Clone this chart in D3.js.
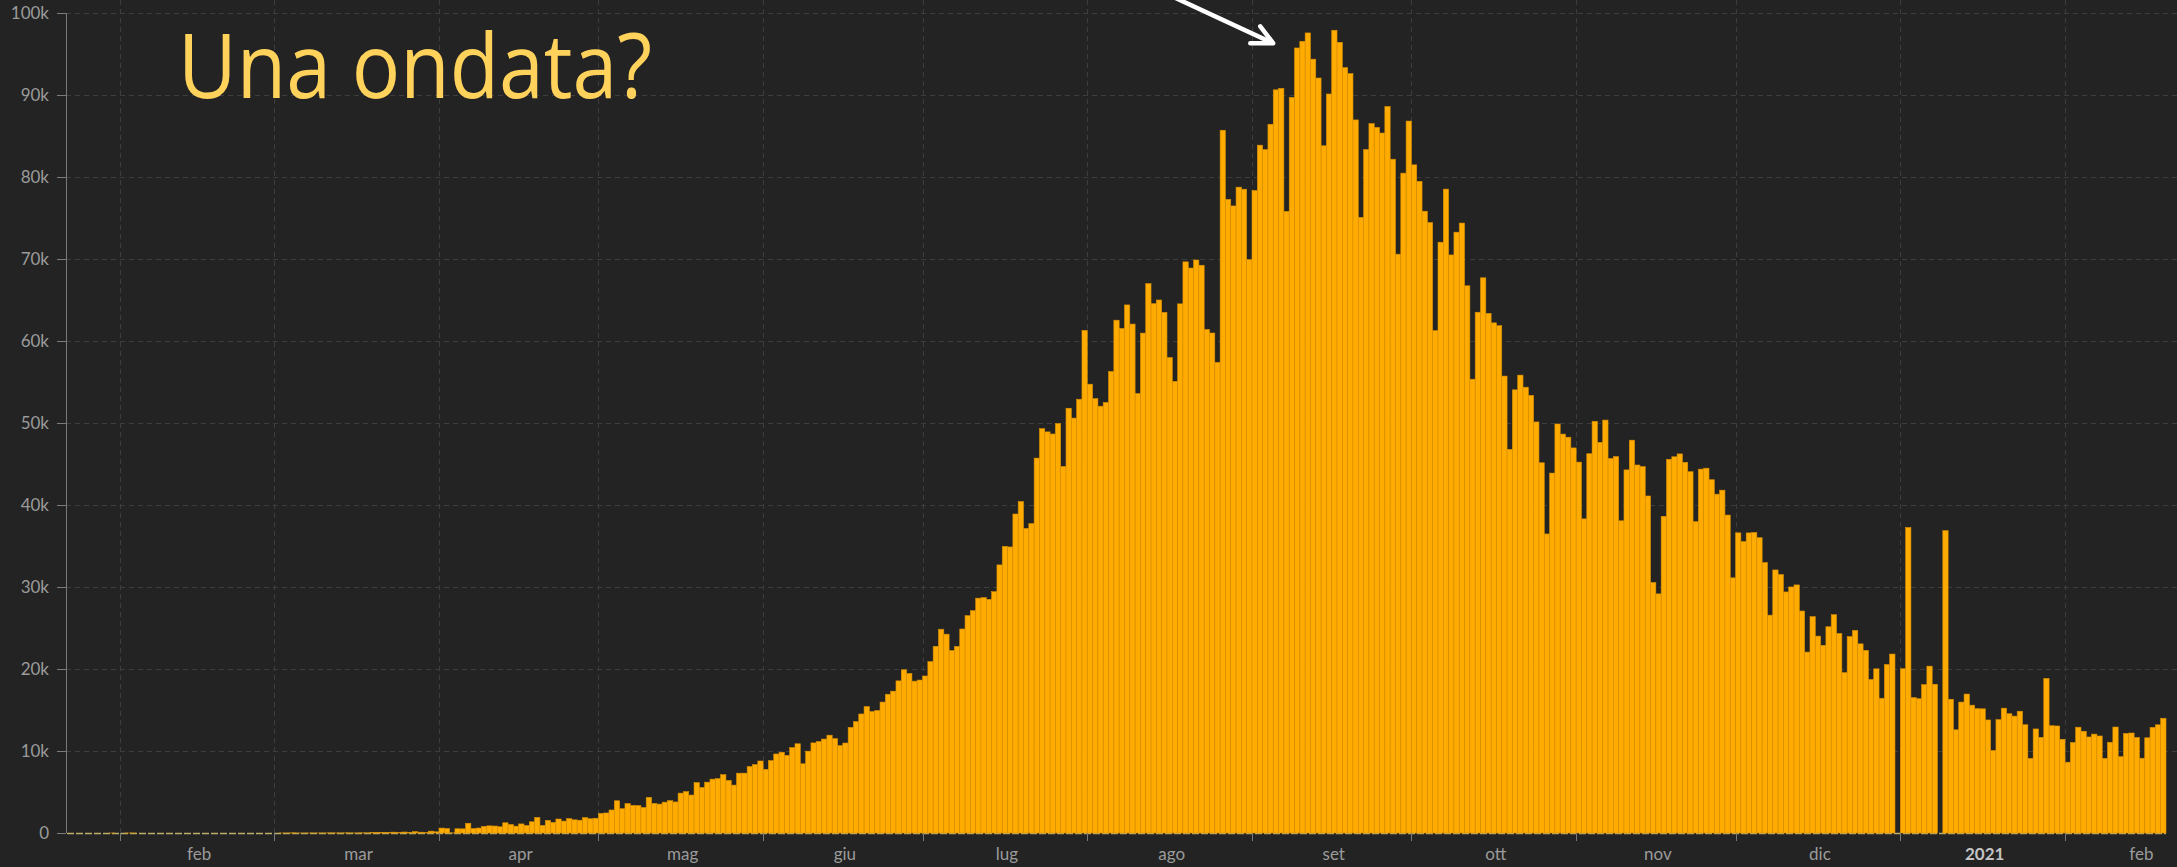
<!DOCTYPE html>
<html>
<head>
<meta charset="utf-8">
<script src="https://cdn.jsdelivr.net/npm/d3@7"></script>
<style>
    html, body { margin: 0; padding: 0; background: #232323; }
    svg { display: block; }
</style>
</head>
<body>
<svg id="chart" width="2177" height="867"></svg>
<script>
// nuovi casi giornalieri, un array per mese (primo giorno indicato in months)
const jan2020 = [0, 0, 0, 0, 0, 0, 0, 0, 1, 0];
const feb2020 = [0, 1, 1, 0, 0, 0, 0, 0, 0, 0, 0, 0, 0, 0, 0, 0, 0, 0, 0, 0, 0, 0, 0, 0, 0, 0, 0, 0, 0];
const mar2020 = [0, 2, 1, 22, 2, 1, 3, 5, 4, 6, 16, 11, 9, 20, 11, 6, 23, 14, 38, 50, 86, 66, 103, 37, 121, 70, 160, 100, 37, 227, 146];
const apr2020 = [601, 545, 24, 515, 506, 1190, 533, 605, 809, 873, 848, 759, 1248, 1034, 835, 1108, 922, 1370, 1893, 924,
    1541, 1290, 1707, 1453, 1753, 1607, 1561, 1873, 1738, 1801];
const may2020 = [2394, 2442, 2806, 3932, 2963, 3587, 3364, 3344, 3113, 4353, 3607, 3524, 3763, 3942, 3787, 4864, 5050, 4630,
    6147, 5553, 6198, 6568, 6629, 7113, 6414, 5843, 7293, 7300, 8105, 8336, 8782];
const jun2020 = [7761, 8821, 9638, 9847, 9472, 10408, 10882, 8442, 9981, 10990, 11156, 11458, 11929, 11502, 10667, 10974,
    12881, 13586, 14516, 15413, 14821, 14933, 15968, 16922, 17296, 18552, 19906, 19459, 18522, 18653];
const jul2020 = [19148, 20903, 22771, 24850, 24248, 22252, 22752, 24879, 26506, 27114, 28637, 28701, 28498, 29429, 32695,
    34956, 34884, 38902, 40425, 37148, 37724, 45720, 49310, 48916, 48661, 49931, 44700, 51800, 50600, 52900, 61300];
const aug2020 = [54735, 52972, 52050, 52509, 56282, 62538, 61537, 64399, 62064, 53601, 60963, 66999, 64553, 65002, 63490,
    57981, 55079, 64531, 69652, 68898, 69878, 69239, 61408, 60975, 57400, 85700, 77266, 76472, 78761, 78512, 69921];
const sep2020 = [78357, 83883, 83341, 86432, 90632, 90802, 75809, 89706, 95735, 96551, 97570, 94372, 92071, 83809, 90123,
    97894, 96424, 93337, 92605, 86961, 75083, 83347, 86508, 86052, 85362, 88600, 82170, 70589, 80472, 86821];
const oct2020 = [81484, 79476, 75829, 74442, 61267, 72049, 78524, 70496, 73272, 74383, 66732, 55342, 63509, 67708, 63371,
    62212, 61871, 55722, 46790, 54044, 55839, 54366, 53370, 50129, 45149, 36470, 43893, 49881, 48648, 48268, 46963];
const nov2020 = [45231, 38310, 46253, 50210, 47638, 50356, 45674, 45903, 38073, 44281, 47905, 44879, 44684, 41100, 30548,
    29163, 38617, 45576, 45882, 46232, 45209, 44059, 37975, 44376, 44489, 43082, 41322, 41810, 38772, 31118];
const dec2020 = [36604, 35551, 36595, 36652, 36011, 32981, 26567, 32080, 31522, 29398, 30006, 30254, 27071, 22065, 26382,
    24010, 22890, 25152, 26624, 24337, 19556, 23950, 24712, 23067, 22272, 18732, 20021, 16432, 20549, 21822, 0];
const jan2021 = [20035, 37256, 16504, 16375, 18088, 20346, 18139, 0, 36867, 16311, 12584, 15968, 16946, 15590, 15158,
    15144, 13788, 10064, 13823, 15223, 14545, 14256, 14849, 13203, 9102, 12689, 11666, 18855, 13083, 13052, 11427];
const feb2021 = [8635, 11039, 12899, 12408, 11713, 12059, 11831, 9110, 11067, 12923, 9309, 12143, 12194, 11649, 9121,
    11610, 12881, 13193, 13993];

const months = [
    { start: new Date(2020, 0, 22), values: jan2020 },
    { start: new Date(2020, 1, 1), values: feb2020 },
    { start: new Date(2020, 2, 1), values: mar2020 },
    { start: new Date(2020, 3, 1), values: apr2020 },
    { start: new Date(2020, 4, 1), values: may2020 },
    { start: new Date(2020, 5, 1), values: jun2020 },
    { start: new Date(2020, 6, 1), values: jul2020 },
    { start: new Date(2020, 7, 1), values: aug2020 },
    { start: new Date(2020, 8, 1), values: sep2020 },
    { start: new Date(2020, 9, 1), values: oct2020 },
    { start: new Date(2020, 10, 1), values: nov2020 },
    { start: new Date(2020, 11, 1), values: dec2020 },
    { start: new Date(2021, 0, 1), values: jan2021 },
    { start: new Date(2021, 1, 1), values: feb2021 },
];

const monthLabels = ["feb", "mar", "apr", "mag", "giu", "lug", "ago", "set", "ott", "nov", "dic", "2021", "feb"];
const yTicks = [0, 10000, 20000, 30000, 40000, 50000, 60000, 70000, 80000, 90000, 100000];

const data = months.flatMap((m) =>
    m.values.map((v, i) => ({ date: d3.timeDay.offset(m.start, i), value: v }))
);

const base = 833;
let x = d3
    .scaleTime()
    .domain([new Date(2020, 0, 22), new Date(2021, 1, 20)])
    .range([67, 2166]);
let y = d3.scaleLinear().domain([0, 100000]).range([base, 13]);

let svg = d3.select("#chart");
svg.append("rect").attr("width", 2177).attr("height", 867).attr("fill", "#232323");

// inizio di ogni mese, da feb 2020 a mar 2021 (serve per centrare le etichette)
const monthStarts = d3.timeMonth.range(new Date(2020, 1, 1), new Date(2021, 2, 2));
const tickMonths = monthStarts.slice(0, 13);

// griglia
svg.append("g")
    .selectAll("line")
    .data(yTicks.slice(1))
    .enter()
    .append("line")
    .attr("x1", 66)
    .attr("x2", 2177)
    .attr("y1", (d) => y(d) + 0.5)
    .attr("y2", (d) => y(d) + 0.5)
    .attr("stroke", "#3d3d3d")
    .attr("stroke-dasharray", "5,4");

svg.append("g")
    .selectAll("line")
    .data(tickMonths)
    .enter()
    .append("line")
    .attr("x1", (d) => Math.round(x(d)) + 0.5)
    .attr("x2", (d) => Math.round(x(d)) + 0.5)
    .attr("y1", 0)
    .attr("y2", base)
    .attr("stroke", "#3d3d3d")
    .attr("stroke-dasharray", "5,4");

// linea dello zero
svg.append("line")
    .attr("x1", 67)
    .attr("x2", 2166)
    .attr("y1", base + 0.5)
    .attr("y2", base + 0.5)
    .attr("stroke", "#bfae6a")
    .attr("stroke-width", 1.5)
    .attr("stroke-dasharray", "7,2");

// barre
svg.append("g")
    .selectAll("rect")
    .data(data)
    .enter()
    .append("rect")
    .attr("x", (d) => x(d.date))
    .attr("width", (d) => x(d3.timeDay.offset(d.date, 1)) - x(d.date))
    .attr("y", (d) => y(d.value))
    .attr("height", (d) => base - y(d.value))
    .attr("fill", "#ffab00")
    .attr("stroke", "#d98f00")
    .attr("stroke-width", 0.6);

// asse y
let yAxis = svg.append("g");
yAxis.append("line")
    .attr("x1", 66.5).attr("x2", 66.5)
    .attr("y1", 13).attr("y2", base)
    .attr("stroke", "#7a7a7a");
yAxis.selectAll(".tick")
    .data(yTicks)
    .enter()
    .append("line")
    .attr("x1", 57).attr("x2", 66)
    .attr("y1", (d) => y(d) + 0.5)
    .attr("y2", (d) => y(d) + 0.5)
    .attr("stroke", "#7a7a7a");
yAxis.selectAll("text")
    .data(yTicks)
    .enter()
    .append("text")
    .text((d) => d3.format("~s")(d))
    .attr("x", 49)
    .attr("y", (d) => y(d) + 6)
    .attr("text-anchor", "end")
    .attr("font-family", "Lato, 'Open Sans', sans-serif")
    .attr("font-size", 17)
    .attr("fill", "#9b9b9b");

// asse x
let xAxis = svg.append("g");
xAxis.selectAll("line")
    .data(tickMonths)
    .enter()
    .append("line")
    .attr("x1", (d) => Math.round(x(d)) + 0.5)
    .attr("x2", (d) => Math.round(x(d)) + 0.5)
    .attr("y1", base)
    .attr("y2", base + 8)
    .attr("stroke", "#7a7a7a");
xAxis.selectAll("text")
    .data(monthLabels)
    .enter()
    .append("text")
    .text((d) => d)
    .attr("x", (d, i) => (x(monthStarts[i]) + x(monthStarts[i + 1])) / 2 + 2)
    .attr("y", 860)
    .attr("text-anchor", "middle")
    .attr("font-family", "Lato, 'Open Sans', sans-serif")
    .attr("font-size", 17)
    .attr("font-weight", (d) => (d === "2021" ? "bold" : "normal"))
    .attr("fill", (d) => (d === "2021" ? "#c4c4c4" : "#9b9b9b"));

// titolo
svg.append("text")
    .text("Una ondata?")
    .attr("x", 178)
    .attr("y", 98)
    .attr("font-family", "'Open Sans', Lato, sans-serif")
    .attr("font-weight", 400)
    .attr("font-size", 90)
    .attr("textLength", 474)
    .attr("lengthAdjust", "spacingAndGlyphs")
    .attr("fill", "#ffd25c");

// freccia verso il picco
const tip = [x(new Date(2020, 8, 5)), y(96300)];
svg.append("path")
    .attr("d", d3.line()([[tip[0] - 112, tip[1] - 52], tip]))
    .attr("stroke", "#ffffff")
    .attr("stroke-width", 4.5)
    .attr("fill", "none");
svg.append("path")
    .attr("d", d3.line()([[tip[0] - 23, tip[1]], tip, [tip[0] - 13, tip[1] - 17]]))
    .attr("stroke", "#ffffff")
    .attr("stroke-width", 4.5)
    .attr("stroke-linecap", "round")
    .attr("stroke-linejoin", "round")
    .attr("fill", "none");
</script>
</body>
</html>
